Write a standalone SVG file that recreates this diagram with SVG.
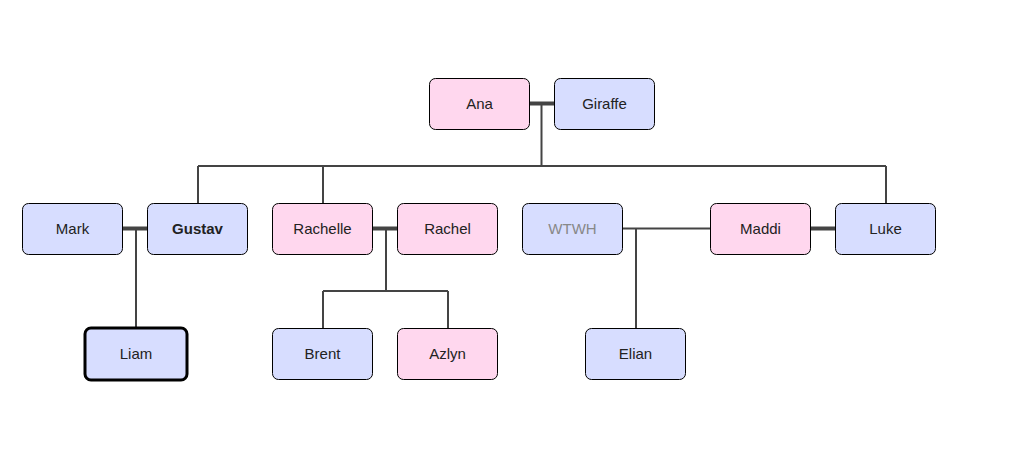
<svg xmlns="http://www.w3.org/2000/svg" width="1030" height="456" viewBox="0 0 1030 456">
<style>
.n rect{stroke:#000;stroke-width:1}
.f rect{fill:#ffd7ee}
.m rect{fill:#d7ddff}
.n text{font-family:"Liberation Sans",Arial,sans-serif;font-size:15px;fill:#222;text-anchor:middle;dominant-baseline:central}
.c{fill:none;stroke:#444;stroke-width:2}
.cp{fill:none;stroke:#444;stroke-width:4}
</style>
<rect width="1030" height="456" fill="#fff"/>
<g id="connectors">
<path class="cp" d="M529,103.5H554M123,228.5H147M373,228.5H397M811,228.5H835"/>
<path class="c" d="M541.5,103.5V166M198,166H886M198,166V203M323,166V203M886,166V203"/>
<path class="c" d="M136,228.5V328"/>
<path class="c" d="M386,228.5V291M323,291H448M323,291V328M448,291V328"/>
<path class="c" d="M623,228.5H710M636,228.5V328"/>
</g>
<g id="ana" class="n f"><rect x="429.5" y="78.5" width="100" height="51" rx="6"/><text x="479.5" y="103">Ana</text></g>
<g id="giraffe" class="n m"><rect x="554.5" y="78.5" width="100" height="51" rx="6"/><text x="604.5" y="103">Giraffe</text></g>
<g id="mark" class="n m"><rect x="22.5" y="203.5" width="100" height="51" rx="6"/><text x="72.5" y="228">Mark</text></g>
<g id="gustav" class="n m"><rect x="147.5" y="203.5" width="100" height="51" rx="6"/><text x="197.5" y="228" font-weight="bold">Gustav</text></g>
<g id="rachelle" class="n f"><rect x="272.5" y="203.5" width="100" height="51" rx="6"/><text x="322.5" y="228">Rachelle</text></g>
<g id="rachel" class="n f"><rect x="397.5" y="203.5" width="100" height="51" rx="6"/><text x="447.5" y="228">Rachel</text></g>
<g id="wtwh" class="n m"><rect x="522.5" y="203.5" width="100" height="51" rx="6"/><text x="572.5" y="228" style="fill:#888">WTWH</text></g>
<g id="maddi" class="n f"><rect x="710.5" y="203.5" width="100" height="51" rx="6"/><text x="760.5" y="228">Maddi</text></g>
<g id="luke" class="n m"><rect x="835.5" y="203.5" width="100" height="51" rx="6"/><text x="885.5" y="228">Luke</text></g>
<g id="liam" class="n m"><rect x="85" y="328" width="102" height="52" rx="6" style="stroke-width:3"/><text x="136" y="353">Liam</text></g>
<g id="brent" class="n m"><rect x="272.5" y="328.5" width="100" height="51" rx="6"/><text x="322.5" y="353">Brent</text></g>
<g id="azlyn" class="n f"><rect x="397.5" y="328.5" width="100" height="51" rx="6"/><text x="447.5" y="353">Azlyn</text></g>
<g id="elian" class="n m"><rect x="585.5" y="328.5" width="100" height="51" rx="6"/><text x="635.5" y="353">Elian</text></g>
</svg>
